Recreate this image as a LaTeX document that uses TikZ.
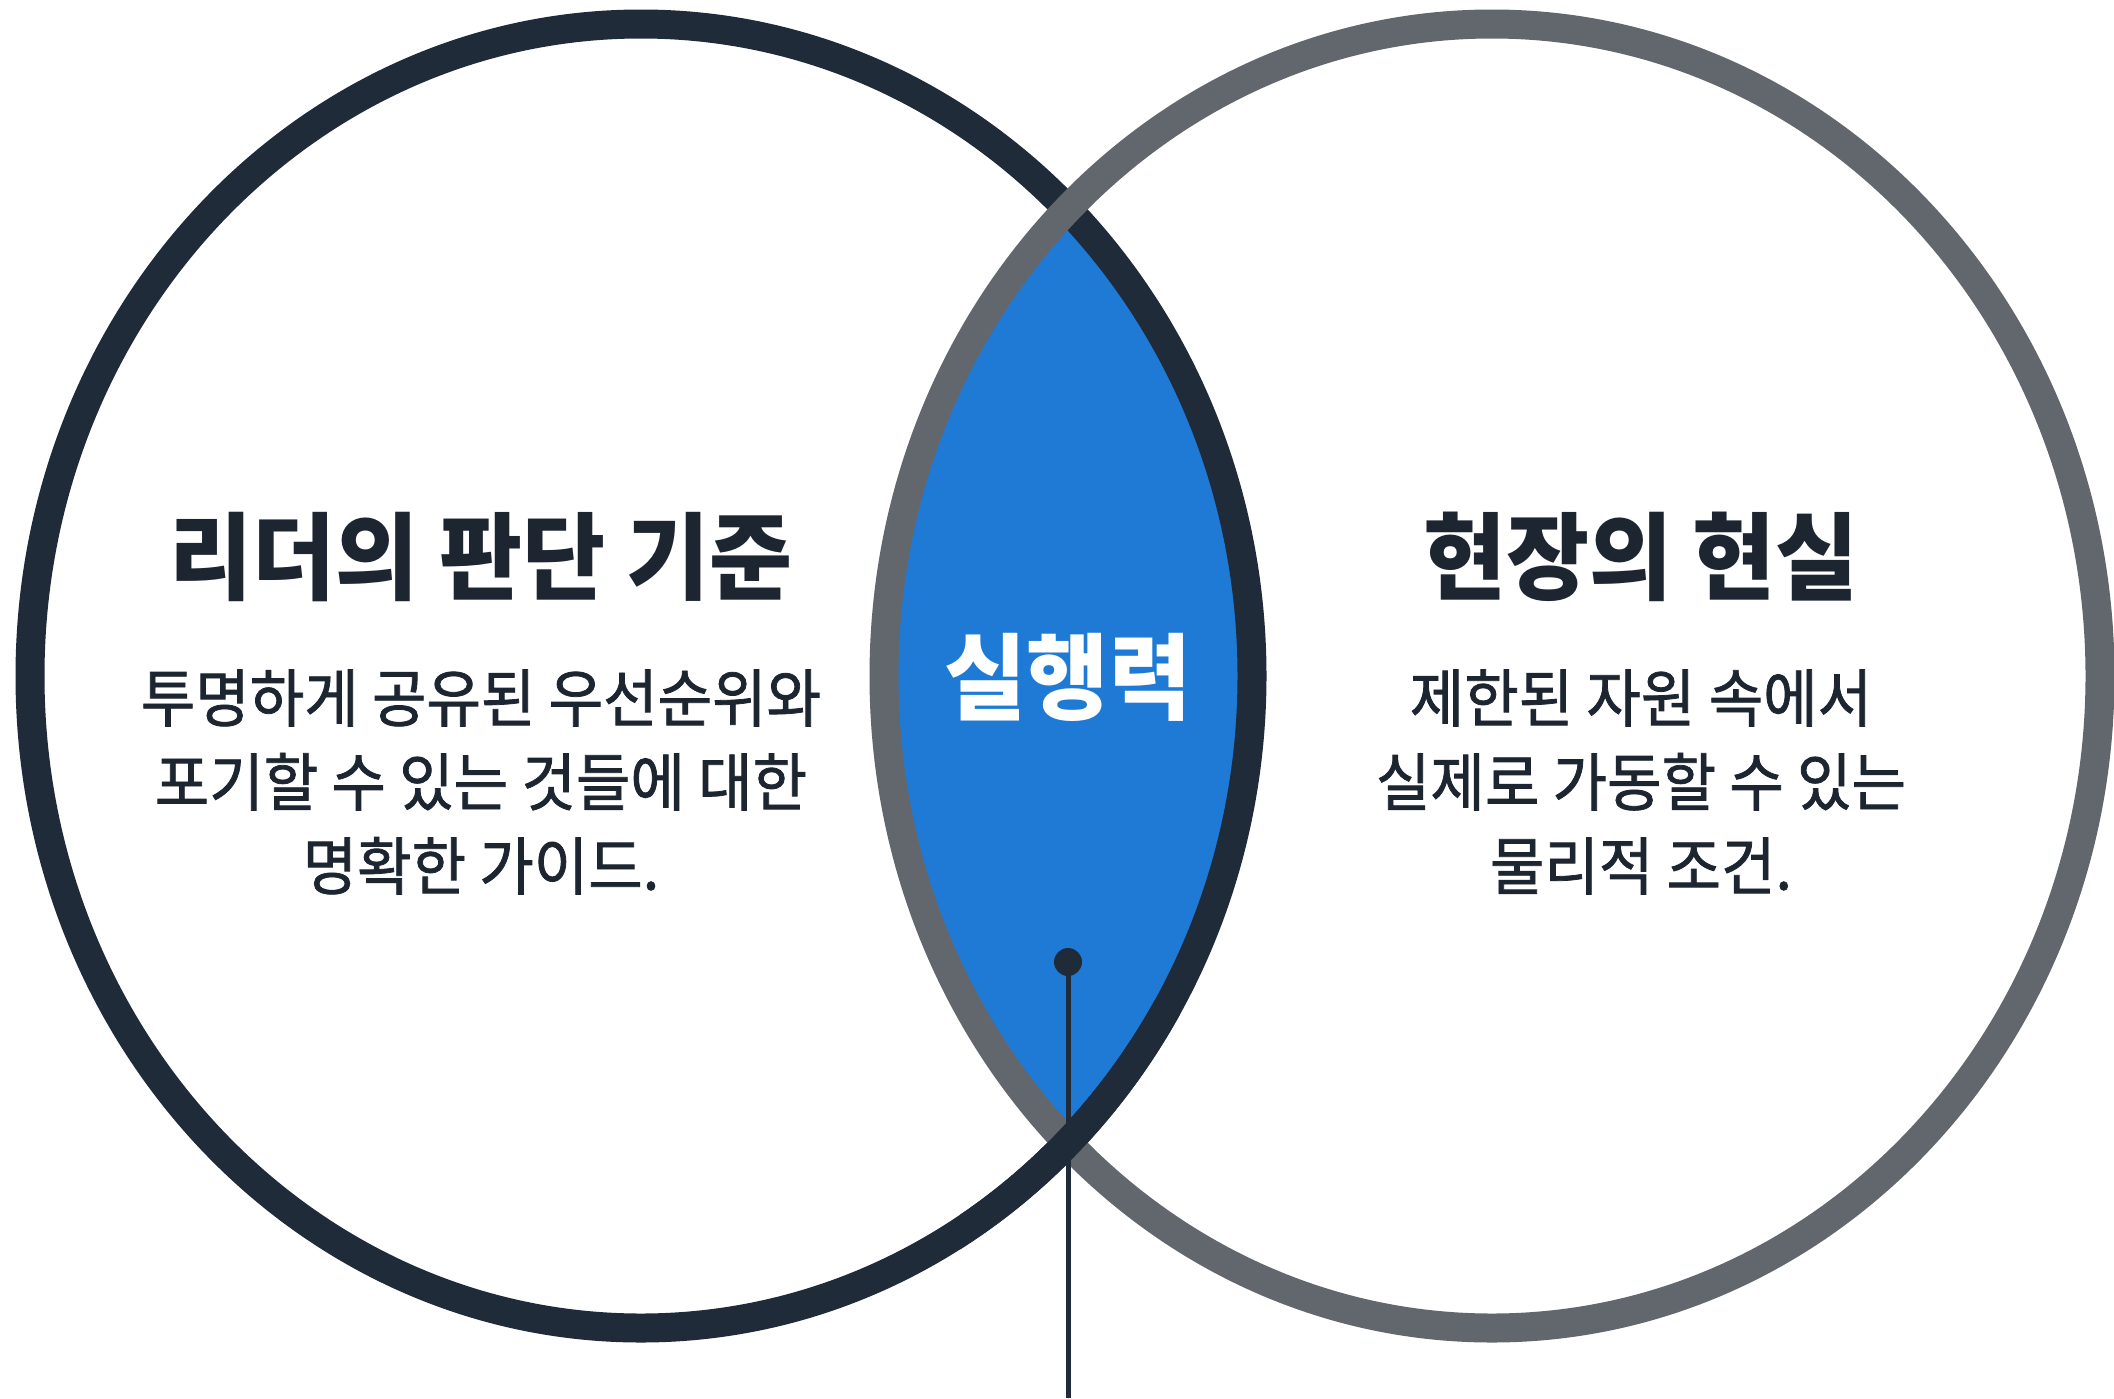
\documentclass[tikz,border=0pt]{standalone}
\usepackage{fontspec}
\newfontfamily\kr{Noto Sans CJK KR}
\newfontfamily\krbody[FakeStretch=0.94,FakeBold=1.2]{Noto Sans CJK KR}
\newfontfamily\krtitle[FakeStretch=0.95]{Noto Sans CJK KR}
\definecolor{ringdark}{HTML}{1F2B38}
\definecolor{ringgrey}{HTML}{62676D}
\definecolor{lensblue}{HTML}{1F7AD6}
\definecolor{txtdark}{HTML}{1C2530}
\begin{document}
\begin{tikzpicture}[x=1pt,y=-1pt,
  ring/.style={line width=29pt},
  titletxt/.style={font=\krtitle\bfseries\fontsize{95}{100}\selectfont, text=txtdark, inner sep=0pt},
  bodytxt/.style={font=\krbody\fontsize{63}{84}\selectfont, text=txtdark, align=center, inner sep=0pt},
  midtxt/.style={font=\krtitle\bfseries\fontsize{94}{100}\selectfont, text=white, inner sep=0pt}]
\useasboundingbox (0,0) rectangle (2114,1398);
\fill[white] (0,0) rectangle (2114,1398);
\coordinate (cl) at (641,676);
\coordinate (cr) at (1492,676);
% lens
\begin{scope}
  \clip (cl) ellipse [x radius=611pt, y radius=652pt];
  \fill[lensblue] (cr) ellipse [x radius=608pt, y radius=652pt];
\end{scope}
% rings: grey over dark at top, dark over grey at bottom
\draw[ring, ringdark] (cl) ellipse [x radius=611pt, y radius=652pt];
\draw[ring, ringgrey] (cr) ellipse [x radius=608pt, y radius=652pt];
\begin{scope}
  \clip (960,1000) rectangle (1180,1398);
  \draw[ring, ringdark] (cl) ellipse [x radius=611pt, y radius=652pt];
\end{scope}
% texts
\node[titletxt] (lt) at (481,557) {리더의 판단 기준};
\node[bodytxt] (lb) at (481,782) {투명하게 공유된 우선순위와\\포기할 수 있는 것들에 대한\\명확한 가이드.};
\node[titletxt] (rt) at (1641,557) {현장의 현실};
\node[bodytxt] (rb) at (1641,782) {제한된 자원 속에서\\실제로 가동할 수 있는\\물리적 조건.};
\node[midtxt] (mid) at (1068,677) {실행력};
% pointer
\node[circle, fill=ringdark, minimum size=28pt, inner sep=0pt] (dot) at (1068,962) {};
\coordinate (lineend) at (1068,1398);
\draw[ringdark, line width=5pt] (dot.center) -- (lineend);
\end{tikzpicture}
\end{document}
